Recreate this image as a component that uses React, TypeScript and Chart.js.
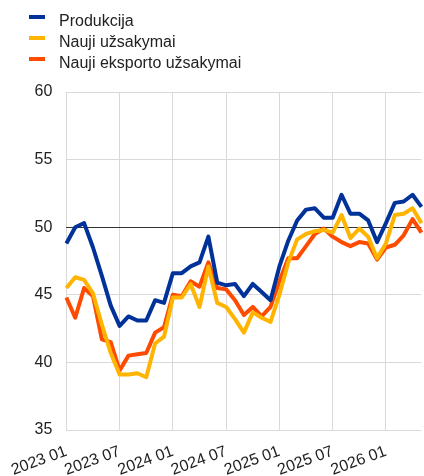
import React, { useEffect, useRef } from "react";
import { Chart, registerables } from "chart.js";

Chart.register(...registerables);

const monthLabels = [
  "2023 01", "2023 02", "2023 03", "2023 04", "2023 05", "2023 06",
  "2023 07", "2023 08", "2023 09", "2023 10", "2023 11", "2023 12",
  "2024 01", "2024 02", "2024 03", "2024 04", "2024 05", "2024 06",
  "2024 07", "2024 08", "2024 09", "2024 10", "2024 11", "2024 12",
  "2025 01", "2025 02", "2025 03", "2025 04", "2025 05", "2025 06",
  "2025 07", "2025 08", "2025 09", "2025 10", "2025 11", "2025 12",
  "2026 01", "2026 02", "2026 03", "2026 04", "2026 05",
];

const produkcija = [
  48.8, 50.0, 50.3, 48.5, 46.4, 44.2, 42.7, 43.4, 43.1, 43.1, 44.6, 44.4,
  46.6, 46.6, 47.1, 47.4, 49.3, 45.9, 45.7, 45.8, 44.9, 45.8, 45.2, 44.6,
  47.1, 49.0, 50.5, 51.3, 51.4, 50.7, 50.7, 52.4, 51.0, 51.0, 50.5, 48.9,
  50.3, 51.8, 51.9, 52.4, 51.5,
];

const naujiUzsakymai = [
  45.5, 46.3, 46.1, 45.1, 42.8, 40.7, 39.1, 39.1, 39.2, 38.9, 41.4, 41.9,
  44.8, 44.8, 45.8, 44.1, 47.1, 44.4, 44.1, 43.2, 42.2, 43.7, 43.3, 43.0,
  45.0, 47.4, 49.1, 49.5, 49.7, 49.8, 49.6, 50.9, 49.2, 49.9, 49.3, 47.7,
  48.8, 50.9, 51.0, 51.4, 50.3,
];

const naujiEksportoUzsakymai = [
  44.8, 43.3, 45.5, 44.9, 41.7, 41.5, 39.4, 40.5, 40.6, 40.7, 42.2, 42.6,
  45.0, 44.9, 46.0, 45.6, 47.4, 45.5, 45.4, 44.6, 43.5, 44.1, 43.4, 44.1,
  46.0, 47.7, 47.7, 48.6, 49.5, 49.9, 49.3, 48.9, 48.6, 48.9, 48.8, 47.6,
  48.5, 48.7, 49.4, 50.6, 49.6,
];

const seriesNames = ["Produkcija", "Nauji užsakymai", "Nauji eksporto užsakymai"];
const seriesColors = ["#003299", "#ffb400", "#ff4b00"];

const FONT = '"Liberation Sans", Arial, sans-serif';

export default function App() {
  const canvasRef = useRef<HTMLCanvasElement | null>(null);

  useEffect(() => {
    const canvas = canvasRef.current;
    if (!canvas) return;
    const seriesData = [produkcija, naujiUzsakymai, naujiEksportoUzsakymai];
    const chart = new Chart(canvas, {
      type: "line",
      data: {
        labels: monthLabels,
        datasets: seriesData.map((d, i) => ({
          label: seriesNames[i],
          data: d,
          borderColor: seriesColors[i],
          backgroundColor: seriesColors[i],
          borderWidth: 4,
          pointRadius: 0,
          tension: 0,
          fill: false,
          borderJoinStyle: "round" as const,
        })),
      },
      options: {
        responsive: false,
        animation: false,
        layout: { padding: { top: 92, right: 15, left: 0, bottom: 0 } },
        plugins: {
          legend: { display: false },
          tooltip: { enabled: false },
        },
        scales: {
          x: {
            type: "category",
            afterFit: (scale: any) => {
              scale.height = 46;
            },
            grid: {
              drawTicks: false,
              color: (ctx: any) => (ctx.index % 6 === 0 ? "#d9d9d9" : "rgba(0,0,0,0)"),
              lineWidth: 1,
            },
            border: { display: false },
            ticks: {
              autoSkip: false,
              maxRotation: 20,
              minRotation: 20,
              padding: 12,
              color: "#222",
              font: { size: 16, family: FONT },
              callback: (_v: any, i: number) => (i % 6 === 0 ? monthLabels[i] : ""),
            },
          },
          y: {
            min: 35,
            max: 60,
            afterFit: (scale: any) => {
              scale.width = 62;
            },
            grid: {
              drawTicks: false,
              color: (ctx: any) => (ctx.tick && ctx.tick.value === 50 ? "#333333" : "#d9d9d9"),
              lineWidth: 1,
            },
            border: { display: false },
            ticks: {
              stepSize: 5,
              padding: 14,
              color: "#222",
              font: { size: 16, family: FONT },
            },
          },
        },
      },
    });
    return () => chart.destroy();
  }, []);

  const legendTops = [15, 36, 57];

  return (
    <div
      style={{
        position: "fixed",
        left: 0,
        top: 0,
        width: 424,
        height: 476,
        overflow: "hidden",
        background: "#fff",
      }}
    >
      <canvas
        ref={canvasRef}
        width={440}
        height={476}
        style={{ position: "absolute", left: 0, top: 0, width: 440, height: 476 }}
      />
      {seriesNames.map((name, i) => (
        <div key={name}>
          <div
            style={{
              position: "absolute",
              left: 29,
              top: legendTops[i],
              width: 16,
              height: 4,
              background: seriesColors[i],
            }}
          />
          <div
            style={{
              position: "absolute",
              left: 59,
              top: legendTops[i] - 2,
              fontFamily: FONT,
              fontSize: 16,
              lineHeight: "16px",
              color: "#222",
              whiteSpace: "nowrap",
            }}
          >
            {name}
          </div>
        </div>
      ))}
    </div>
  );
}
